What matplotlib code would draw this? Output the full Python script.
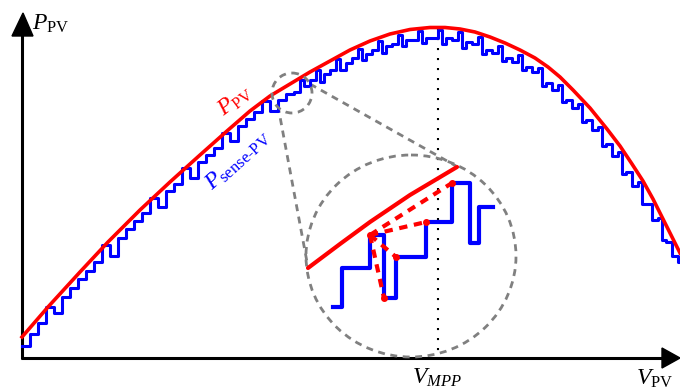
import matplotlib.pyplot as plt
from matplotlib.patches import Ellipse, Polygon

plt.rcParams['mathtext.fontset'] = 'custom'
plt.rcParams['mathtext.rm'] = 'Liberation Serif'
plt.rcParams['mathtext.it'] = 'Liberation Serif:italic'
plt.rcParams['font.family'] = 'Liberation Serif'

# P-V curve (drawing units, y grows downward)
v_pv = [22, 48, 80, 108, 140, 170, 200, 227, 250, 270, 290, 310, 330, 350,
        370, 390, 410, 430, 445, 460, 475, 490, 505, 520, 535, 548, 560,
        573, 590, 607, 620, 632, 643, 653, 663, 672, 680]
p_pv = [337, 307, 272, 242, 210, 182, 155, 131, 111, 96, 84, 72, 61, 50,
        41, 34, 29.5, 27.5, 27.5, 29, 32, 37, 43, 50, 58, 67, 77,
        90, 108, 129, 146, 164, 181, 199, 219, 237, 253]

# sensed power: step start voltage and held level
sense_v = [22, 30, 38, 46, 54, 62, 70, 78, 86, 94, 102, 110, 118, 126, 134,
           142, 150, 158, 166, 174, 182, 190, 198, 206, 214, 222, 230, 238,
           246, 254, 262, 270, 278, 286, 294, 300, 304, 310, 316, 320, 324,
           330, 336, 340, 346, 352, 358, 362, 366, 372, 378, 382, 386, 392,
           398, 402, 406, 412, 418, 422, 426, 432, 438, 442, 446, 452, 458,
           462, 466, 472, 478, 482, 486, 492, 498, 502, 506, 512, 518, 522,
           526, 532, 538, 542, 546, 552, 558, 562, 566, 572, 578, 582, 586,
           592, 598, 602, 606, 612, 618, 622, 626, 632, 638, 642, 646, 652,
           658, 662, 666, 672, 678, 680]
sense_p = [346, 334, 323, 307, 313, 297, 288, 279, 271, 262, 245, 256, 238,
           229, 221, 213, 198, 207, 191, 184, 168, 178, 162, 155, 148, 133,
           141, 126, 119, 112, 101, 111, 100, 94, 92, 80, 86, 80, 70, 82, 74,
           70, 59, 70, 63, 58, 49, 60, 54, 50, 41, 53, 46, 44, 35, 46, 40,
           40, 31, 43, 38, 38, 30, 44, 38, 40, 32, 48, 42, 44, 37, 54, 50,
           53, 46, 61, 58, 62, 55, 70, 67, 72, 68, 86, 83, 90, 85, 102, 100,
           108, 104, 122, 120, 130, 127, 146, 144, 156, 152, 174, 172, 186,
           182, 204, 204, 220, 218, 240, 242, 256, 262, 262]

v_mpp = 438

# zoomed-in detail
zoom_v = [308, 340, 370, 410, 457]
zoom_p = [268, 244, 222, 195, 167]
zoom_step_v = [333, 342, 342, 370, 370, 384, 384, 396, 396, 426, 426,
               452, 452, 470, 470, 479, 479, 493]
zoom_step_p = [307, 307, 268, 268, 235, 235, 298, 298, 257, 257, 222,
               222, 183, 183, 243, 243, 207, 207]
probe_from = (370, 235)
probe_to_v = [452, 426, 396, 384]
probe_to_p = [183, 222, 257, 298]

fig = plt.figure(figsize=(6.8, 3.9), dpi=100)
ax = fig.add_axes([0, 0, 1, 1])
ax.set_xlim(0, 680)
ax.set_ylim(390, 0)
ax.axis('off')

# axes with arrows
ax.plot([22, 22], [359, 30], color='black', lw=2.2, solid_capstyle='butt')
ax.plot([21, 665], [358, 358], color='black', lw=2.2, solid_capstyle='butt')
ax.add_patch(Polygon([[12, 36], [23, 13], [33, 36]], closed=True, color='black'))
ax.add_patch(Polygon([[662, 348], [680, 358], [662, 368]], closed=True, color='black'))

# MPP marker
ax.plot([v_mpp, v_mpp], [28, 357], color='black', lw=1.5, ls=(0, (1, 3.8)))

ax.step(sense_v, sense_p, where='post', color='#0000FF', lw=2.2, zorder=3)
ax.plot(v_pv, p_pv, color='#FF0000', lw=2.6, zorder=4)

# magnifier
grey = '#808080'
ax.add_patch(Ellipse((292, 93), 40, 40, fill=False, ec=grey, lw=2, ls=(0, (2.5, 2)), zorder=5))
ax.add_patch(Ellipse((411, 256), 210, 202, fill=False, ec=grey, lw=2, ls=(0, (2.5, 2)), zorder=2))
ax.plot([278, 307], [106, 262], color=grey, lw=2, ls=(0, (2.5, 2)), zorder=2)
ax.plot([310, 456], [84, 166], color=grey, lw=2, ls=(0, (2.5, 2)), zorder=2)

ax.plot(zoom_step_v, zoom_step_p, color='#0000FF', lw=3, zorder=6)
ax.plot(zoom_v, zoom_p, color='#FF0000', lw=3, zorder=7, solid_capstyle='round')
for v, p in zip(probe_to_v, probe_to_p):
    ax.plot([probe_from[0], v], [probe_from[1], p], color='#FF0000', lw=3,
            ls=(0, (2, 1.6)), zorder=7)
ax.plot(probe_to_v + [probe_from[0]], probe_to_p + [probe_from[1]], 'o',
        color='#FF0000', ms=4, zorder=8)

# labels
ax.text(32, 30, r'$P_{\rm PV}$', fontsize=17, ha='left', va='baseline')
ax.text(412, 384, r'$V_{MPP}$', fontsize=17, ha='left', va='baseline')
ax.text(636, 385, r'$V_{\rm PV}$', fontsize=17, ha='left', va='baseline')
ax.text(235, 101, r'$P_{\rm PV}$', fontsize=17, color='#FF0000',
        rotation=37, ha='center', va='center')
ax.text(238, 160, r'$P_{\rm sense\text{-}PV}$', fontsize=17, color='#0000FF',
        rotation=42, ha='center', va='center')

fig.savefig('out.png', dpi=100)
